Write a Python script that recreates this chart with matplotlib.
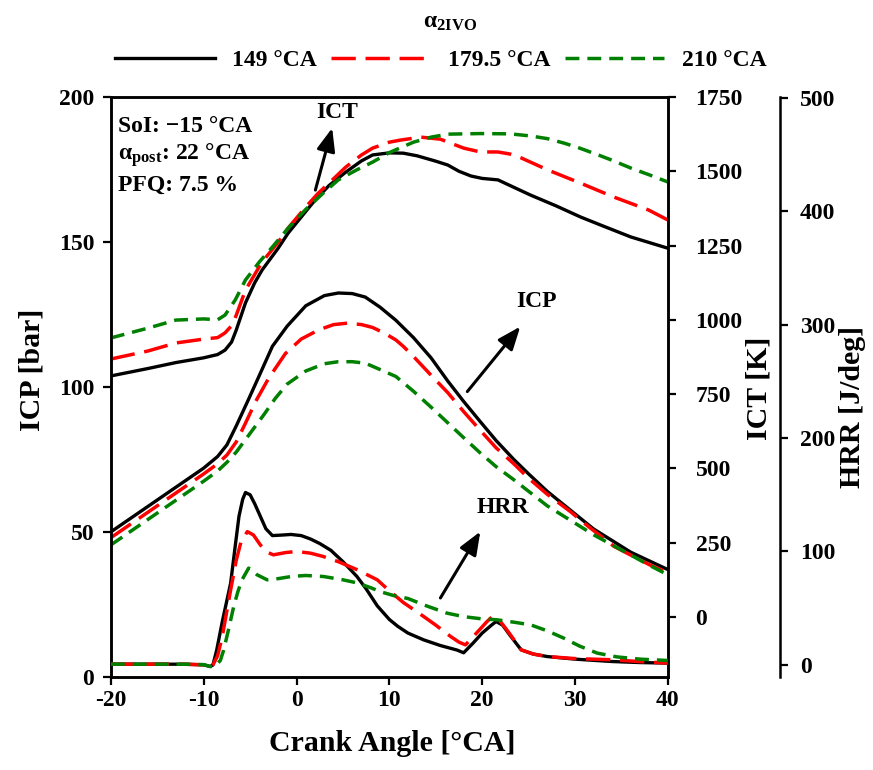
import numpy as np
import matplotlib
matplotlib.use("Agg")
import matplotlib.pyplot as plt

plt.rcParams["font.family"] = "Liberation Serif"
plt.rcParams["font.weight"] = "bold"
plt.rcParams["axes.labelweight"] = "bold"
plt.rcParams["axes.unicode_minus"] = False
plt.rcParams["mathtext.fontset"] = "custom"
plt.rcParams["mathtext.rm"] = "Liberation Serif:bold"
plt.rcParams["mathtext.it"] = "Liberation Serif:italic:bold"
plt.rcParams["mathtext.bf"] = "Liberation Serif:bold"

cases = ["149 °CA", "179.5 °CA", "210 °CA"]

# ICT [K]
ict_149_ca = [-20, -16, -13, -10, -8.5, -7.7, -7, -6.5, -5.5, -4.5, -3.7, -2, -0.9, 1, 2, 3.5, 5.3, 7, 8.2, 10,
              11.5, 13, 15, 16.3, 17.5, 18.8, 20, 21.7, 23, 25.2, 28, 30.6, 33, 36, 40]
ict_149 = [811, 836, 856, 872, 883, 898, 925, 965, 1057, 1125, 1168, 1240, 1292, 1365, 1403, 1452, 1497, 1535, 1555, 1562,
           1561, 1552, 1534, 1521, 1500, 1484, 1476, 1471, 1452, 1420, 1383, 1346, 1316, 1279, 1241]
ict_179_ca = [-20, -16, -13, -10, -8.5, -7.7, -7, -6.5, -5.5, -3.7, -2, -0.9, 1, 2.3, 4, 5.3, 7, 8.2, 10, 11.2,
              13.4, 15.5, 17, 18, 19.8, 21.7, 23, 24.2, 27.1, 30.6, 34.2, 37.9, 40]
ict_179 = [868, 895, 922, 935, 940, 956, 980, 1015, 1100, 1195, 1260, 1309, 1380, 1425, 1475, 1514, 1555, 1578, 1598, 1605,
           1615, 1608, 1590, 1578, 1565, 1565, 1558, 1545, 1504, 1460, 1413, 1370, 1336]
ict_210_ca = [-20, -16, -13, -10, -8.5, -7.7, -6.6, -5.5, -4, -2.6, -1, 1, 3, 4.5, 6.5, 8.2, 10, 12.6, 14.5, 16.3,
              19.8, 23, 25.2, 27, 28.8, 30.5, 32.5, 34, 36, 38, 40]
ict_210 = [939, 972, 999, 1003, 1000, 1016, 1067, 1134, 1195, 1245, 1305, 1372, 1430, 1471, 1505, 1531, 1563, 1598, 1615, 1625,
           1627, 1626, 1619, 1610, 1595, 1578, 1555, 1537, 1511, 1488, 1464]

# ICP [bar]
icp_149_ca = [-20, -17.5, -15, -12.5, -10, -8.5, -7.5, -6.5, -5.2, -4, -2.6, -1, 1, 3, 4.5, 6, 7.4, 9, 10.7, 12.6,
              14.5, 16.3, 18, 19.8, 21.5, 23.4, 25, 27, 29.5, 32, 34, 36, 38, 40]
icp_149 = [50, 55.5, 61, 66.5, 72, 76, 80, 86.5, 95.5, 104, 114, 121, 128, 131.5, 132.4, 132.2, 131, 127.5, 123, 117,
           110, 102, 95, 88, 81.5, 75, 70, 64, 57.5, 51, 47, 43, 40, 37]
icp_179_ca = [-20, -17.5, -15, -12.5, -10, -8.5, -7.5, -6.5, -5.5, -4.4, -3, -1.2, 0.5, 2.4, 4, 5.5, 7, 8.2, 9.5, 10.7,
              11.5, 12.6, 14.5, 16.3, 18, 19.8, 21.5, 23.4, 25, 27, 29.5, 31.5, 34.2, 36, 38, 40]
icp_179 = [48, 53.5, 59, 64.5, 70, 73.5, 76.5, 81, 87.5, 95, 103, 111.5, 116.5, 119.7, 121.5, 122, 121.5, 120.5, 118.5, 116.2,
           114, 110.5, 104, 98, 91.5, 85, 79, 73.5, 68.5, 63, 57, 51.7, 45, 42, 38.7, 35.9]
icp_210_ca = [-20, -17.5, -15, -12.5, -10, -8.5, -7.5, -6.5, -5, -3.5, -2.3, -1, 1, 3, 4.5, 6, 7.4, 9, 10.7, 12.6,
              14.5, 16.3, 18, 19.8, 21.5, 23.4, 25, 27, 29.5, 32, 34, 36, 38, 40]
icp_210 = [45.5, 51, 56.5, 62, 67.5, 71, 74, 77.5, 84, 90.5, 96, 101, 105.5, 108, 108.7, 108.7, 108.2, 106, 103.6, 98.5,
           93, 87.6, 82.5, 77.2, 72.5, 68, 64, 59, 54, 49, 45.5, 42, 38.5, 35.2]

# HRR [J/deg]
hrr_149_ca = [-20, -15, -12, -10, -9.3, -9, -8.6, -8, -7.1, -6.6, -6.2, -5.8, -5.5, -5, -4.5, -3.9, -3.3, -2.6, -1.5, -0.6,
              0.5, 1.5, 2.5, 3.7, 5, 6.5, 7.5, 8.7, 10, 10.9, 12, 13.7, 15.5, 17.3, 18, 19, 20, 21, 21.5, 22.2,
              23, 24.2, 25.5, 27, 30, 34, 37, 40]
hrr_149 = [0.6, 0.6, 0.5, 0, -1.5, 0, 13, 38, 72, 105, 131, 146, 152, 150, 142, 131, 120, 114, 114.5, 115,
           114, 111, 107, 101, 91, 78, 67, 52, 40, 34, 28, 22, 17, 13, 10.6, 19, 28, 35, 38.2, 35,
           26, 13.2, 9.5, 7.3, 5, 2.9, 2, 1.5]
hrr_179_ca = [-20, -12, -10, -9.3, -9, -8.5, -8, -7.1, -6.5, -6, -5.3, -4.65, -3.9, -3.2, -2.5, -1.2, 0, 1.5, 2.9, 4.5,
              6.5, 8.7, 9.9, 11.5, 13.7, 15, 16.6, 17.5, 18.2, 19.5, 20.5, 21.1, 21.8, 23, 24.2, 25.5, 27, 30, 34.2, 37, 40]
hrr_179 = [0.6, 0.5, 0, -1.5, 0, 8, 25, 66, 92, 108, 117.5, 114.6, 105.8, 99.5, 97, 99, 100, 98.5, 95.5, 91,
           84, 75, 66, 55, 42.6, 35, 25, 20, 17.6, 29, 38, 42.6, 40, 27, 13.2, 9.5, 7.3, 5.5, 4.4, 2.8, 1.5]
hrr_210_ca = [-20, -12, -10, -9.3, -8.7, -8.2, -7.85, -7.3, -6.77, -6.3, -5.87, -5.16, -4.6, -4.25, -3.17, -2, -0.5, 1, 2.9, 5,
              6.5, 8, 9, 10.5, 12, 14, 16.2, 18, 20, 21.6, 23.5, 25.2, 27, 28.8, 30.5, 32.4, 34.5, 37, 40]
hrr_210 = [0.6, 0.5, 0.2, -1.5, -1, 4, 13, 32, 51.4, 65, 75, 85.3, 82, 79.4, 75, 76, 78, 78.8, 77.9, 75,
           72.3, 68, 64.6, 61, 58.5, 52, 45.6, 42.5, 40.5, 39.7, 37.5, 35.3, 30, 23.5, 16.5, 10.3, 7, 5, 3.8]

styles = [dict(color="black", lw=2.4, ls="-"),
          dict(color="#ff0000", lw=2.5, ls=(0, (7, 2.8))),
          dict(color="#008000", lw=2.5, ls=(0, (4, 2.3)))]

fig = plt.figure(figsize=(8.73, 7.7), dpi=100)
ax = fig.add_axes([0.127, 0.121, 0.638, 0.753])
ax_t = ax.twinx()
ax_h = ax.twinx()

handles = []
for ca, v, st in zip([icp_149_ca, icp_179_ca, icp_210_ca], [icp_149, icp_179, icp_210], styles):
    h, = ax.plot(ca, v, **st)
    handles.append(h)
for ca, v, st in zip([ict_149_ca, ict_179_ca, ict_210_ca], [ict_149, ict_179, ict_210], styles):
    ax_t.plot(ca, v, **st)
for ca, v, st in zip([hrr_149_ca, hrr_179_ca, hrr_210_ca], [hrr_149, hrr_179, hrr_210], styles):
    ax_h.plot(ca, v, **st)

ax.set_xlim(-20, 40)
ax.set_ylim(0, 200)
ax.set_xticks(np.arange(-20, 41, 10))
ax.set_yticks(np.arange(0, 201, 50))
ax_t.set_ylim(-202, 1750)
ax_t.set_yticks(np.arange(0, 1751, 250))
ax_h.set_ylim(-10.6, 500.9)
ax_h.set_yticks(np.arange(0, 501, 100))

ax_h.spines["right"].set_position(("axes", 1.202))
for s in ["left", "top", "bottom"]:
    ax_h.spines[s].set_visible(False)
for a in (ax, ax_t, ax_h):
    for s in a.spines.values():
        s.set_linewidth(1.8)
    a.tick_params(direction="out", length=6, width=1.6, labelsize=17)
ax_t.tick_params(pad=14)
ax_h.tick_params(pad=8)
ax.tick_params(axis="y", pad=6)

ax.set_xlabel("Crank Angle [°CA]", fontsize=21.5)
ax.set_ylabel("ICP [bar]", fontsize=21.5)
ax_t.set_ylabel("ICT [K]", fontsize=21.5)
ax_h.set_ylabel("HRR [J/deg]", fontsize=21.5)
ax.xaxis.set_label_coords(0.505, -0.092)
ax.yaxis.set_label_coords(-0.118, 0.529)
ax_t.yaxis.set_label_coords(1.14, 0.497)
ax_h.yaxis.set_label_coords(1.307, 0.466)

# operating conditions
ax.text(0.013, 0.95, "SoI: \u221215 °CA", transform=ax.transAxes, fontsize=17, va="center")
ax.text(0.013, 0.90, "α$_\\mathrm{post}$: 22 °CA", transform=ax.transAxes, fontsize=17, va="center")
ax.text(0.013, 0.848, "PFQ: 7.5 %", transform=ax.transAxes, fontsize=17, va="center")

# curve labels with arrows
arrow = dict(arrowstyle="-|>,head_length=0.7,head_width=0.28", color="black", lw=2.2, mutation_scale=20,
             shrinkA=0, shrinkB=0)
ax.text(4.4, 194.8, "ICT", fontsize=17, ha="center", va="center")
ax.annotate("", xy=(3.84, 189.3), xytext=(2.03, 167.9), arrowprops=arrow)
ax.text(25.9, 129.3, "ICP", fontsize=17, ha="center", va="center")
ax.annotate("", xy=(24.1, 120.8), xytext=(18.4, 98.4), arrowprops=arrow)
ax.text(22.2, 58.3, "HRR", fontsize=17, ha="center", va="center")
ax.annotate("", xy=(19.8, 50.1), xytext=(15.5, 27.2), arrowprops=arrow)

fig.text(0.515, 1 - 22 / 770, "α$_\\mathrm{2IVO}$", fontsize=17, ha="center", va="center")
fig.legend(handles, cases, ncol=3, loc="center", bbox_to_anchor=(0.505, 1 - 60 / 770), frameon=False,
           fontsize=17, handlelength=4.2, handletextpad=0.75, columnspacing=0.6)

fig.savefig("out.png", dpi=100)
